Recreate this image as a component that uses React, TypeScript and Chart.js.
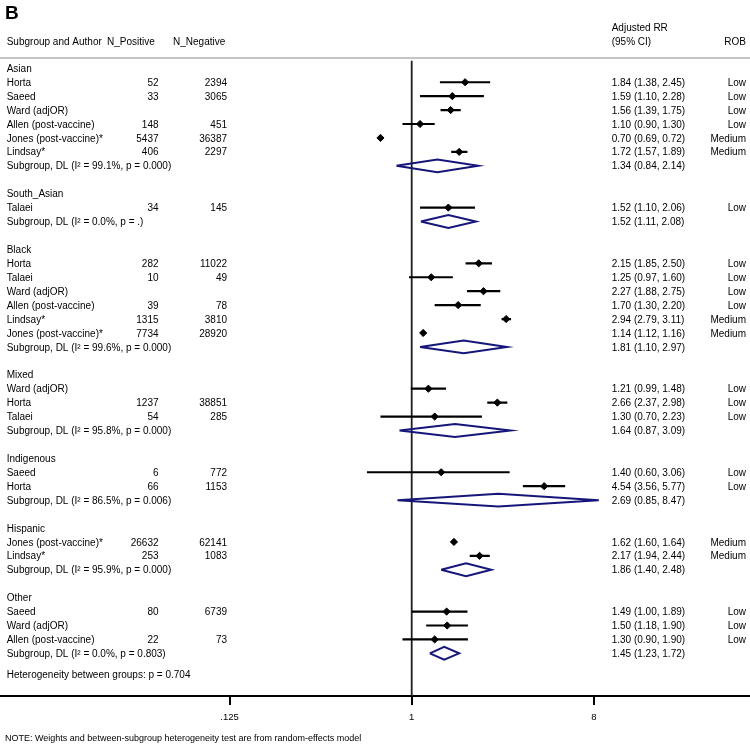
import { useEffect, useRef } from "react";
import { Chart, registerables } from "chart.js";

Chart.register(...registerables);

const FAMILY = '"Liberation Sans", Arial, Helvetica, sans-serif';

// ---------- data ----------
const groupNames = ["Asian", "South_Asian", "Black", "Mixed", "Indigenous", "Hispanic", "Other"];

const studyGroup = [0, 0, 0, 0, 0, 0, 1, 2, 2, 2, 2, 2, 2, 3, 3, 3, 4, 4, 5, 5, 6, 6, 6];
const studyAuthor = [
  "Horta", "Saeed", "Ward (adjOR)", "Allen (post-vaccine)", "Jones (post-vaccine)*", "Lindsay*",
  "Talaei",
  "Horta", "Talaei", "Ward (adjOR)", "Allen (post-vaccine)", "Lindsay*", "Jones (post-vaccine)*",
  "Ward (adjOR)", "Horta", "Talaei",
  "Saeed", "Horta",
  "Jones (post-vaccine)*", "Lindsay*",
  "Saeed", "Ward (adjOR)", "Allen (post-vaccine)",
];
const studyNPos = [52, 33, null, 148, 5437, 406, 34, 282, 10, null, 39, 1315, 7734, null, 1237, 54, 6, 66, 26632, 253, 80, null, 22];
const studyNNeg = [2394, 3065, null, 451, 36387, 2297, 145, 11022, 49, null, 78, 3810, 28920, null, 38851, 285, 772, 1153, 62141, 1083, 6739, null, 73];
const studyRR = [1.84, 1.59, 1.56, 1.1, 0.7, 1.72, 1.52, 2.15, 1.25, 2.27, 1.7, 2.94, 1.14, 1.21, 2.66, 1.3, 1.4, 4.54, 1.62, 2.17, 1.49, 1.5, 1.3];
const studyLo = [1.38, 1.1, 1.39, 0.9, 0.69, 1.57, 1.1, 1.85, 0.97, 1.88, 1.3, 2.79, 1.12, 0.99, 2.37, 0.7, 0.6, 3.56, 1.6, 1.94, 1.0, 1.18, 0.9];
const studyHi = [2.45, 2.28, 1.75, 1.3, 0.72, 1.89, 2.06, 2.5, 1.6, 2.75, 2.2, 3.11, 1.16, 1.48, 2.98, 2.23, 3.06, 5.77, 1.64, 2.44, 1.89, 1.9, 1.9];
const studyROB = [
  "Low", "Low", "Low", "Low", "Medium", "Medium",
  "Low",
  "Low", "Low", "Low", "Low", "Medium", "Medium",
  "Low", "Low", "Low",
  "Low", "Low",
  "Medium", "Medium",
  "Low", "Low", "Low",
];

const subI2 = ["99.1", "0.0", "99.6", "95.8", "86.5", "95.9", "0.0"];
const subP = ["0.000", ".", "0.000", "0.000", "0.006", "0.000", "0.803"];
const subRR = [1.34, 1.52, 1.81, 1.64, 2.69, 1.86, 1.45];
const subLo = [0.84, 1.11, 1.1, 0.87, 0.85, 1.4, 1.23];
const subHi = [2.14, 2.08, 2.97, 3.09, 8.47, 2.48, 1.72];

const heterogeneityP = "0.704";
const tickValues = [0.125, 1, 8];
const tickLabels = [".125", "1", "8"];
const noteText = "NOTE: Weights and between-subgroup heterogeneity test are from random-effects model";

// ---------- layout ----------
const W = 750;
const H = 744;
const AXIS_H = 48;
const ROW0 = 68.3;
const STEP = 13.93;
const PLOT_BOTTOM = H - AXIS_H;
const yMin = -ROW0 / STEP;
const yMax = (PLOT_BOTTOM - ROW0) / STEP;
const PX_PER_DOUBLING = 60.7;
const ONE_PX = 411.7;
const xMin = Math.pow(2, -ONE_PX / PX_PER_DOUBLING);
const xMax = Math.pow(2, (W - ONE_PX) / PX_PER_DOUBLING);
const DIAMOND_H = 0.46;

type RowItem = { kind: "group" | "study" | "sub" | "het"; row: number; idx: number };

function buildRows(): RowItem[] {
  const rows: RowItem[] = [];
  let r = 0;
  groupNames.forEach((_, gi) => {
    rows.push({ kind: "group", row: r++, idx: gi });
    studyGroup.forEach((sg, si) => {
      if (sg === gi) rows.push({ kind: "study", row: r++, idx: si });
    });
    rows.push({ kind: "sub", row: r++, idx: gi });
    r++;
  });
  rows.push({ kind: "het", row: r - 0.5, idx: 0 });
  return rows;
}

const fmtCI = (rr: number, lo: number, hi: number) => `${rr.toFixed(2)} (${lo.toFixed(2)}, ${hi.toFixed(2)})`;

export default function App() {
  const ref = useRef<HTMLCanvasElement | null>(null);

  useEffect(() => {
    document.body.style.margin = "0";
    const canvas = ref.current;
    if (!canvas) return;
    const rows = buildRows();

    const markers: any[] = [];
    const whiskers: any[] = [];
    const diamonds: any[] = [];
    rows.forEach((it) => {
      if (it.kind === "study") {
        const i = it.idx;
        markers.push({ x: studyRR[i], y: it.row });
        whiskers.push({ x: studyLo[i], y: it.row }, { x: studyHi[i], y: it.row }, { x: studyHi[i], y: null });
      } else if (it.kind === "sub") {
        const g = it.idx;
        diamonds.push(
          { x: subLo[g], y: it.row },
          { x: subRR[g], y: it.row - DIAMOND_H },
          { x: subHi[g], y: it.row },
          { x: subRR[g], y: it.row + DIAMOND_H },
          { x: subLo[g], y: it.row },
          { x: subLo[g], y: null }
        );
      }
    });

    const textPlugin = {
      id: "forestText",
      afterDraw(chart: any) {
        const ctx: CanvasRenderingContext2D = chart.ctx;
        const ys = chart.scales.y;
        const base = (y: number) => y + 3.6;
        ctx.save();
        // separator
        ctx.strokeStyle = "#c4c4c4";
        ctx.lineWidth = 2;
        ctx.beginPath();
        ctx.moveTo(0, 58);
        ctx.lineTo(W, 58);
        ctx.stroke();

        ctx.fillStyle = "#000";
        ctx.textBaseline = "alphabetic";
        ctx.textAlign = "left";
        ctx.font = `bold 19px ${FAMILY}`;
        ctx.fillText("B", 5, 18.5);

        ctx.font = `10px ${FAMILY}`;
        ctx.fillText("Subgroup and Author", 6.7, base(41));
        ctx.fillText("N_Positive", 107, base(41));
        ctx.fillText("N_Negative", 173, base(41));
        ctx.fillText("Adjusted RR", 611.7, base(27.5));
        ctx.fillText("(95% CI)", 611.7, base(41));
        ctx.textAlign = "right";
        ctx.fillText("ROB", 746, base(41));

        rows.forEach((it) => {
          const y = base(ys.getPixelForValue(it.row));
          ctx.textAlign = "left";
          if (it.kind === "group") {
            ctx.fillText(groupNames[it.idx], 6.7, y);
          } else if (it.kind === "study") {
            const i = it.idx;
            ctx.fillText(studyAuthor[i], 6.7, y);
            ctx.fillText(fmtCI(studyRR[i], studyLo[i], studyHi[i]), 611.7, y);
            ctx.textAlign = "right";
            if (studyNPos[i] !== null) ctx.fillText(String(studyNPos[i]), 158.5, y);
            if (studyNNeg[i] !== null) ctx.fillText(String(studyNNeg[i]), 227, y);
            ctx.fillText(studyROB[i], 746, y);
          } else if (it.kind === "sub") {
            const g = it.idx;
            ctx.fillText(`Subgroup, DL (I\u00B2 = ${subI2[g]}%, p = ${subP[g]})`, 6.7, y);
            ctx.fillText(fmtCI(subRR[g], subLo[g], subHi[g]), 611.7, y);
          } else {
            ctx.fillText(`Heterogeneity between groups: p = ${heterogeneityP}`, 6.7, y);
          }
        });

        ctx.textAlign = "left";
        ctx.font = `9px ${FAMILY}`;
        ctx.fillText(noteText, 5, 741);
        ctx.restore();
      },
    };

    const chart = new Chart(canvas, {
      type: "scatter",
      data: {
        datasets: [
          {
            data: markers,
            showLine: false,
            pointStyle: "rectRot",
            pointRadius: 3.6,
            pointBorderWidth: 1,
            pointBackgroundColor: "#000",
            pointBorderColor: "#000",
          },
          {
            data: whiskers,
            showLine: true,
            spanGaps: false,
            borderColor: "#000",
            borderWidth: 2.2,
            pointRadius: 0,
          },
          {
            data: diamonds,
            showLine: true,
            spanGaps: false,
            borderColor: "#16167a",
            borderWidth: 2,
            borderJoinStyle: "miter",
            pointRadius: 0,
          },
          {
            data: [
              { x: 1, y: -0.55 },
              { x: 1, y: yMax },
            ],
            showLine: true,
            borderColor: "#1e1e1e",
            borderWidth: 1.8,
            pointRadius: 0,
          },
        ] as any,
      },
      options: {
        animation: false,
        responsive: false,
        events: [],
        layout: { padding: 0, autoPadding: false },
        clip: false,
        plugins: { legend: { display: false }, tooltip: { enabled: false }, title: { display: false } },
        scales: {
          x: {
            type: "logarithmic",
            position: "bottom",
            min: xMin,
            max: xMax,
            afterBuildTicks: (s: any) => {
              s.ticks = tickValues.map((v) => ({ value: v }));
            },
            afterFit: (s: any) => {
              s.height = AXIS_H;
            },
            ticks: {
              autoSkip: false,
              maxRotation: 0,
              minRotation: 0,
              padding: 7,
              color: "#000",
              font: { family: FAMILY, size: 9.5 },
              callback: (_v: any, i: number) => tickLabels[i],
            },
            grid: {
              display: true,
              drawOnChartArea: false,
              drawTicks: true,
              tickLength: 9,
              color: "#000",
              lineWidth: 2,
            },
            border: { display: true, color: "#000", width: 2 },
          },
          y: {
            type: "linear",
            display: false,
            reverse: true,
            min: yMin,
            max: yMax,
          },
        },
      } as any,
      plugins: [textPlugin],
    });

    return () => chart.destroy();
  }, []);

  return (
    <div style={{ width: W, height: H }}>
      <canvas ref={ref} width={W} height={H} style={{ display: "block" }} />
    </div>
  );
}
